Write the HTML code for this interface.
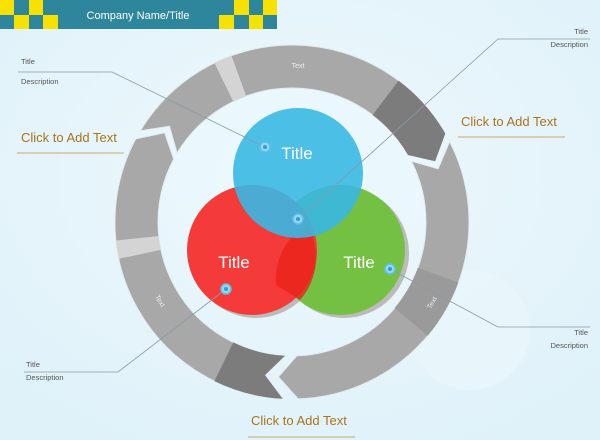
<!DOCTYPE html>
<html><head><meta charset="utf-8"><style>
body{margin:0;width:600px;height:440px;overflow:hidden;background:#e4f4fb;font-family:"Liberation Sans",sans-serif}
svg{position:absolute;left:0;top:0}
</style></head><body>
<svg id="s" width="600" height="440" xmlns="http://www.w3.org/2000/svg">
<defs>
<radialGradient id="bg" cx="0.5" cy="0.4" r="0.7"><stop offset="0" stop-color="#eef9fd"/><stop offset="1" stop-color="#dff1f9"/></radialGradient>
</defs>
<rect width="600" height="440" fill="url(#bg)"/>
<circle cx="470" cy="330" r="60" fill="#e9f6fc" opacity="0.7"/>
<circle cx="320" cy="150" r="80" fill="#eaf7fc" opacity="0.5"/>
<rect x="0" y="0" width="277" height="29" fill="#2e869c"/>
<g fill="#f6e100">
<rect x="0" y="0" width="14" height="15"/><rect x="29" y="0" width="14" height="15"/>
<rect x="14" y="15" width="15" height="14"/><rect x="43" y="15" width="15" height="14"/>
<rect x="234" y="0" width="15" height="15"/><rect x="263" y="0" width="14" height="15"/>
<rect x="219" y="15" width="15" height="14"/><rect x="249" y="15" width="14" height="14"/>
</g>
<text x="138" y="19" font-size="11" fill="#fff" text-anchor="middle">Company Name/Title</text>
<g id="ring"></g>
<g>
<circle cx="256" cy="253" r="65" fill="#bbb"/>
<circle cx="344" cy="253" r="65" fill="#bbb"/>
<circle cx="340" cy="250" r="65" fill="#74c043"/>
<circle cx="252" cy="250" r="65" fill="#f53a3a"/>
<path d="M276,285 A65,65 0 0 1 307,224 A65,65 0 0 1 300,300 Z" fill="#e8231a" opacity="0.8"/>
<circle cx="298" cy="173" r="65" fill="#3ab8e3" opacity="0.9"/>
</g>
<text x="297" y="159" font-size="17" fill="#fff" text-anchor="middle">Title</text>
<text x="234" y="268" font-size="17" fill="#fff" text-anchor="middle">Title</text>
<text x="359" y="268" font-size="17" fill="#fff" text-anchor="middle">Title</text>
<g stroke="#8a9aa4" stroke-width="0.8" fill="none">
<polyline points="18,72 112,72 265,147"/>
<polyline points="590,39 498,39 298,219"/>
<polyline points="24,372 118,372 226,289"/>
<polyline points="590,327 498,327 390,269"/>
</g>
<g fill="#9ad7ee" stroke="#5bc0ea" stroke-width="1.5">
<circle cx="265" cy="147" r="5"/><circle cx="298" cy="219" r="5"/><circle cx="226" cy="289" r="5"/><circle cx="390" cy="269" r="5"/>
</g>
<g fill="#2a9fd6"><circle cx="265" cy="147" r="2"/><circle cx="298" cy="219" r="2"/><circle cx="226" cy="289" r="2"/><circle cx="390" cy="269" r="2"/></g>
<g font-size="7.5" fill="#555">
<text x="21" y="64">Title</text><text x="21" y="84">Description</text>
<text x="588" y="34" text-anchor="end">Title</text><text x="588" y="47" text-anchor="end">Description</text>
<text x="26" y="367">Title</text><text x="26" y="380">Description</text>
<text x="588" y="335" text-anchor="end">Title</text><text x="588" y="348" text-anchor="end">Description</text>
</g>
<g font-size="13" fill="#a8741c">
<text x="21" y="142">Click to Add Text</text>
<text x="461" y="126">Click to Add Text</text>
<text x="251" y="425">Click to Add Text</text>
</g>
<g stroke="#c8a870" stroke-width="1">
<line x1="17" y1="153" x2="124" y2="153"/><line x1="458" y1="137" x2="565" y2="137"/><line x1="248" y1="437" x2="355" y2="437"/>
</g>
</svg>
<script>
var cx=292,cy=222,R=177,r=134,m=155.5;
function P(rad,a){a=a*Math.PI/180;return (cx+rad*Math.cos(a)).toFixed(1)+","+(cy+rad*Math.sin(a)).toFixed(1);}
function seg(a0,a1,col){
 var big=(a1-a0)>180?1:0;
 return '<path d="M'+P(m,a0+7)+' L'+P(R,a0)+' A'+R+','+R+' 0 '+big+' 1 '+P(R,a1)+' L'+P(m,a1+7)+' L'+P(r,a1)+' A'+r+','+r+' 0 '+big+' 0 '+P(r,a0)+' Z" fill="'+col+'" stroke="#e0ecf2" stroke-width="1"/>';
}
function band(a0,a1,col){
 return '<path d="M'+P(R,a0)+' A'+R+','+R+' 0 0 1 '+P(R,a1)+' L'+P(r,a1)+' A'+r+','+r+' 0 0 0 '+P(r,a0)+' Z" fill="'+col+'"/>';
}
function bandN(a0,a1,col){ // band at segment start with notch
 return '<path d="M'+P(m,a0+7)+' L'+P(R,a0)+' A'+R+','+R+' 0 0 1 '+P(R,a1)+' L'+P(r,a1)+' A'+r+','+r+' 0 0 0 '+P(r,a0)+' Z" fill="'+col+'"/>';
}
function bandT(a0,a1,col){ // band at segment end with tip
 return '<path d="M'+P(R,a0)+' A'+R+','+R+' 0 0 1 '+P(R,a1)+' L'+P(m,a1+7)+' L'+P(r,a1)+' A'+r+','+r+' 0 0 0 '+P(r,a0)+' Z" fill="'+col+'"/>';
}
var h='';
h+=seg(93,208,'#a8a8a8')+bandN(93,116,'#7c7c7c')+band(168,174,'#d4d4d4');
h+=seg(211,330,'#a8a8a8')+bandT(307,330,'#7c7c7c')+band(244,250,'#d4d4d4');
h+=seg(333,448,'#a8a8a8')+band(20,40,'#9a9a9a');
h+='<text x="298" y="68" font-size="7" fill="#eee" text-anchor="middle">Text</text>';
h+='<text x="0" y="0" font-size="7" fill="#eee" text-anchor="middle" transform="translate(158,302) rotate(60)">Text</text>';
h+='<text x="0" y="0" font-size="7" fill="#eee" text-anchor="middle" transform="translate(434,304) rotate(-60)">Text</text>';
document.getElementById('ring').innerHTML=h;
</script>
</body></html>
